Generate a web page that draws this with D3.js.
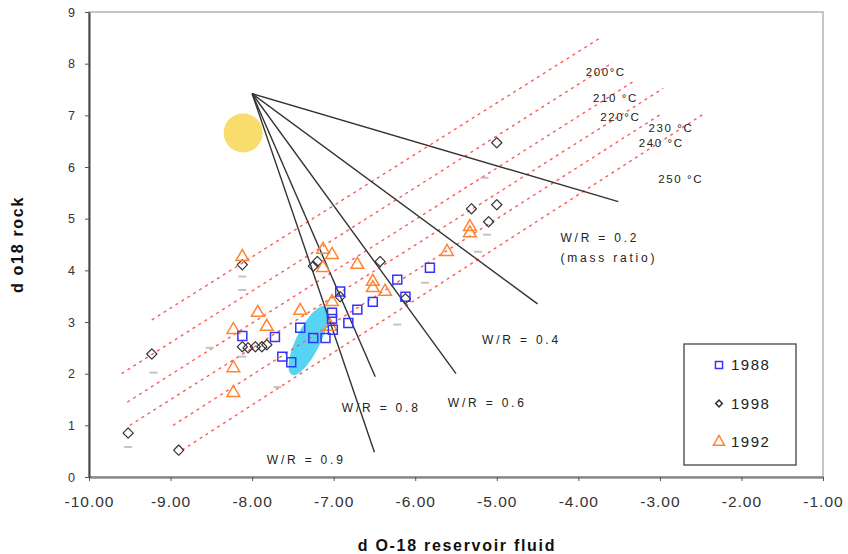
<!DOCTYPE html>
<html>
<head>
<meta charset="utf-8">
<script src="https://cdn.jsdelivr.net/npm/d3@7"></script>
<style>
  body { margin: 0; background: #fff; }
  svg text { font-family: "Liberation Sans", Arial, sans-serif; }
</style>
</head>
<body>
<div id="chart"></div>
<script>
    // values (d O-18 fluid, d o18 rock)

    var xTicks = [-10, -9, -8, -7, -6, -5, -4, -3, -2, -1]
    var yTicks = [0, 1, 2, 3, 4, 5, 6, 7, 8, 9]
    var yearLabels = ['1988', '1998', '1992']

    var s1988 = [[-8.12,2.73],[-7.72,2.71],[-7.63,2.33],[-7.52,2.22],[-7.41,2.89],
        [-7.25,2.69],[-7.10,2.69],[-7.02,3.18],[-7.02,3.06],[-7.01,2.85],[-6.92,3.59],
        [-6.82,2.98],[-6.71,3.24],[-6.52,3.39],[-6.22,3.82],[-6.12,3.49],[-5.82,4.05]]

    var s1998 = [[-9.52,0.85],[-8.90,0.52],[-9.23,2.38],[-8.12,4.11],[-8.12,2.52],
        [-8.05,2.50],[-7.96,2.52],[-7.88,2.52],[-7.82,2.56],[-7.20,4.17],[-7.25,4.08],
        [-6.43,4.17],[-6.92,3.49],[-5.00,6.47],[-5.31,5.19],[-5.00,5.27],[-5.10,4.94],
        [-6.12,3.45]]

    var s1992 = [[-8.12,4.26],[-7.93,3.18],[-8.23,2.85],[-7.82,2.91],[-8.23,2.11],
        [-8.23,1.63],[-7.41,3.22],[-7.13,4.40],[-7.02,4.30],[-7.13,4.05],[-6.71,4.11],
        [-6.52,3.78],[-6.52,3.66],[-6.37,3.59],[-7.02,3.39],[-7.04,2.91],[-5.33,4.84],
        [-5.33,4.72],[-5.61,4.36]]

    // faint grey dashes (unlabelled series)
    var sGrey = [[-9.52,0.58],[-9.21,2.02],[-8.12,3.88],[-8.12,3.62],[-8.52,2.50],
        [-7.69,1.74],[-8.12,2.33],[-5.15,5.79],[-5.12,4.69],[-5.23,4.36],[-5.88,3.76],
        [-6.22,2.95]]

    // isotherms: start x, start y, end x, end y
    var tempLines = [[-9.23,3.04,-3.73,8.50],[-9.60,2.00,-3.58,8.02],[-9.53,1.45,-3.30,7.68],
        [-9.50,1.00,-2.96,7.52],[-8.97,1.00,-2.99,7.02],[-8.86,0.52,-2.47,7.02]]
    var tempLabels = [['200°C',-3.91,7.83],['210 °C',-3.82,7.33],['220°C',-3.73,6.96],
        ['230 °C',-3.14,6.76],['240 °C',-3.26,6.47],['250 °C',-3.02,5.76]]

    // water/rock mixing lines from the rock start point
    var wrOrigin = [-8.0, 7.42]
    var wrEnds = [[-3.51,5.33],[-4.50,3.35],[-5.50,2.00],[-6.49,1.94],[-6.50,0.48]]
    var wrLabels = [['W/R = 0.2',-4.22,4.63],['(mass ratio)',-4.22,4.24],['W/R = 0.4',-5.18,2.66],
        ['W/R = 0.6',-5.60,1.43],['W/R = 0.8',-6.90,1.34],['W/R = 0.9',-7.82,0.33]]

    var rockPoint = [-8.11, 6.66]   // yellow disc
    var fluidField = [-7.31, 2.64]  // cyan field centre

    // Main SVG

    var W = 848, H = 554
    var svg = d3.select('#chart').append('svg')
        .attr('width', W).attr('height', H)

    var x = d3.scaleLinear().domain([-10, -1]).range([89, 823])
    var y = d3.scaleLinear().domain([0, 9]).range([477, 12])

    // plot frame
    svg.append('rect')
        .attr('x', x(-10)).attr('y', y(9))
        .attr('width', x(-1) - x(-10)).attr('height', y(0) - y(9))
        .attr('fill', '#fff').attr('stroke', '#b4b4b4').attr('stroke-width', 1.5)

    var g = svg.append('g')

    // cyan field and yellow disc
    g.append('ellipse')
        .attr('transform', 'translate(' + x(fluidField[0]) + ',' + y(fluidField[1]) + ') rotate(-64)')
        .attr('rx', 38).attr('ry', 12)
        .attr('fill', '#55d4f4')

    g.append('circle')
        .attr('cx', x(rockPoint[0])).attr('cy', y(rockPoint[1]))
        .attr('r', 19.5)
        .attr('fill', '#f8dc6c')

    // isotherms
    g.selectAll('.iso').data(tempLines).enter().append('line')
        .attr('class', 'iso')
        .attr('x1', d => x(d[0])).attr('y1', d => y(d[1]))
        .attr('x2', d => x(d[2])).attr('y2', d => y(d[3]))
        .attr('stroke', '#ff5a5a').attr('stroke-width', 1.4)
        .attr('stroke-dasharray', '3,4')

    // W/R lines
    g.selectAll('.wr').data(wrEnds).enter().append('line')
        .attr('class', 'wr')
        .attr('x1', x(wrOrigin[0])).attr('y1', y(wrOrigin[1]))
        .attr('x2', d => x(d[0])).attr('y2', d => y(d[1]))
        .attr('stroke', '#333').attr('stroke-width', 1.4)

    // markers
    g.selectAll('.grey').data(sGrey).enter().append('line')
        .attr('class', 'grey')
        .attr('x1', d => x(d[0]) - 4).attr('x2', d => x(d[0]) + 4)
        .attr('y1', d => y(d[1])).attr('y2', d => y(d[1]))
        .attr('stroke', '#c4c4c4').attr('stroke-width', 2)

    var diamond = d3.symbol().type(d3.symbolSquare).size(52)  // rotated 45 below
    var square = d3.symbol().type(d3.symbolSquare).size(80)
    var triangle = d3.symbol().type(d3.symbolTriangle).size(70)

    g.selectAll('.s98').data(s1998).enter().append('path')
        .attr('class', 's98')
        .attr('transform', d => 'translate(' + x(d[0]) + ',' + y(d[1]) + ') rotate(45)')
        .attr('d', diamond)
        .attr('fill', 'none').attr('stroke', '#333').attr('stroke-width', 1.2)
        .attr('stroke-linejoin', 'round')

    g.selectAll('.s92').data(s1992).enter().append('path')
        .attr('class', 's92')
        .attr('transform', d => 'translate(' + x(d[0]) + ',' + y(d[1]) + ')')
        .attr('d', triangle)
        .attr('fill', 'none').attr('stroke', '#ff8533').attr('stroke-width', 1.5)

    g.selectAll('.s88').data(s1988).enter().append('path')
        .attr('class', 's88')
        .attr('transform', d => 'translate(' + x(d[0]) + ',' + y(d[1]) + ')')
        .attr('d', square)
        .attr('fill', 'none').attr('stroke', '#3535f5').attr('stroke-width', 1.5)

    // annotations
    g.selectAll('.tl').data(tempLabels).enter().append('text')
        .attr('x', d => x(d[1])).attr('y', d => y(d[2]))
        .attr('dy', '0.35em')
        .style('font-size', '11.5px').style('letter-spacing', '1.6px')
        .attr('fill', '#222')
        .text(d => d[0])

    g.selectAll('.wl').data(wrLabels).enter().append('text')
        .attr('x', d => x(d[1])).attr('y', d => y(d[2]))
        .attr('dy', '0.35em')
        .style('font-size', '12px').style('letter-spacing', '2.8px')
        .attr('fill', '#222')
        .text(d => d[0])

    // axes
    var xAxis = svg.append('g')
        .attr('transform', 'translate(0,' + y(0) + ')')
        .call(d3.axisBottom(x).tickValues(xTicks).tickFormat(d => d.toFixed(2))
            .tickSize(4).tickSizeOuter(0).tickPadding(15))
    xAxis.select('.domain').attr('stroke', '#8a8a8a').attr('stroke-width', 2.5)
    xAxis.selectAll('line').attr('stroke', '#555')
    xAxis.selectAll('text')
        .style('font-size', '15.5px').style('letter-spacing', '1px').attr('fill', '#333')

    var yAxis = svg.append('g')
        .attr('transform', 'translate(' + x(-10) + ',0)')
        .call(d3.axisLeft(y).tickValues(yTicks).tickFormat(d3.format('d'))
            .tickSize(4).tickSizeOuter(0).tickPadding(10))
    yAxis.select('.domain').attr('stroke', '#444').attr('stroke-width', 2)
    yAxis.selectAll('line').attr('stroke', '#555')
    yAxis.selectAll('text')
        .style('font-size', '12.5px').attr('fill', '#333')

    // axis titles
    svg.append('text')
        .attr('x', 457).attr('y', 545).attr('dy', '0.35em')
        .attr('text-anchor', 'middle')
        .style('font-size', '16px').style('font-weight', 'bold').style('letter-spacing', '1.7px')
        .attr('fill', '#111')
        .text('d O-18 reservoir fluid')

    svg.append('text')
        .attr('transform', 'translate(17,' + (y(0) + y(9)) / 2 + ') rotate(-90)')
        .attr('dy', '0.35em')
        .attr('text-anchor', 'middle')
        .style('font-size', '16px').style('font-weight', 'bold').style('letter-spacing', '1.7px')
        .attr('fill', '#111')
        .text('d o18 rock')

    // legend
    var legend = svg.append('g').attr('transform', 'translate(684,344)')
    legend.append('rect')
        .attr('width', 112).attr('height', 121)
        .attr('fill', '#fff').attr('stroke', '#444').attr('stroke-width', 1.3)

    var legendShapes = [
        {sym: d3.symbol().type(d3.symbolSquare).size(50), stroke: '#3535f5', rot: 0},
        {sym: d3.symbol().type(d3.symbolSquare).size(22), stroke: '#333', rot: 45},
        {sym: d3.symbol().type(d3.symbolTriangle).size(55), stroke: '#ff8533', rot: 0}
    ]
    var legendRow = d3.scaleLinear().domain([0, 2]).range([21, 98])

    yearLabels.forEach(function(lab, i) {
        legend.append('path')
            .attr('transform', 'translate(35,' + legendRow(i) + ') rotate(' + legendShapes[i].rot + ')')
            .attr('d', legendShapes[i].sym)
            .attr('fill', 'none').attr('stroke', legendShapes[i].stroke).attr('stroke-width', 1.5)
        legend.append('text')
            .attr('x', 47).attr('y', legendRow(i)).attr('dy', '0.35em')
            .style('font-size', '15px').style('letter-spacing', '1.5px')
            .attr('fill', '#222')
            .text(lab)
    })
</script>
</body>
</html>
